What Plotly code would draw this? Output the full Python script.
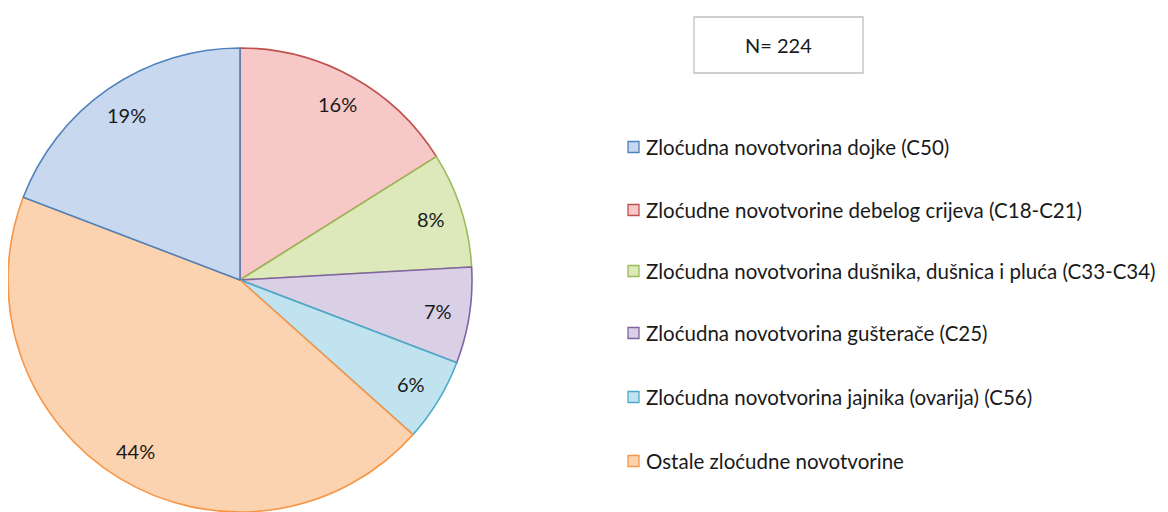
import math
import plotly.graph_objects as go

OFF = 8  # page body margin
W, H = 1168 - OFF, 512 - OFF

labels = [
    "Zloćudne novotvorine debelog crijeva (C18-C21)",
    "Zloćudna novotvorina dušnika, dušnica i pluća (C33-C34)",
    "Zloćudna novotvorina gušterače (C25)",
    "Zloćudna novotvorina jajnika (ovarija) (C56)",
    "Ostale zloćudne novotvorine",
    "Zloćudna novotvorina dojke (C50)",
]
counts = [36, 18, 15, 13, 99, 43]
fill_colors = ["#f6c8c7", "#dde9bb", "#dad0e6", "#c0e3ef", "#fcd3b0", "#c8d8ee"]
line_colors = ["#c0504d", "#9bbb59", "#8064a2", "#4bacc6", "#f79646", "#4f81bd"]

# legend order as in reference
legend_order = [5, 0, 1, 2, 3, 4]
total_n = 224

FONT = "Lato"
TXT = "#1a1a1a"


def px2x(px):
    return (px - OFF) / W


def py2y(py):
    return 1 - (py - OFF) / H


# pie geometry (reference pixels)
cx, cy, R = 240, 280, 232
dom_x = [px2x(cx - R), px2x(cx + R)]
dom_y = [max(0, py2y(cy + R)), min(1, py2y(cy - R))]

fig = go.Figure()
fig.add_trace(go.Pie(
    labels=labels,
    values=counts,
    sort=False,
    direction="clockwise",
    rotation=0,
    marker=dict(colors=fill_colors, line=dict(color=line_colors, width=1.6)),
    textinfo="none",
    hoverinfo="label+percent",
    showlegend=False,
    domain=dict(x=dom_x, y=dom_y),
))

annotations = []
shapes = []

# percentage labels placed on slice bisectors
tot = sum(counts)
cum = 0
for v in counts:
    mid = (cum + v / 2) / tot
    cum += v
    th = mid * 2 * math.pi
    r = 0.865 * R
    px = cx + r * math.sin(th)
    py = cy - r * math.cos(th)
    annotations.append(dict(
        x=px2x(px), y=py2y(py), xref="paper", yref="paper",
        text=f"{round(100 * v / tot)}%", showarrow=False,
        font=dict(family=FONT, size=20, color=TXT),
        xanchor="center", yanchor="middle",
    ))

# manual legend
row_y = [147, 210, 271, 333, 397, 461]
sq_x0, sq = 628, 11
for k, idx in enumerate(legend_order):
    yy = row_y[k]
    shapes.append(dict(
        type="rect", xref="paper", yref="paper",
        x0=px2x(sq_x0), x1=px2x(sq_x0 + sq),
        y0=py2y(yy + sq / 2), y1=py2y(yy - sq / 2),
        fillcolor=fill_colors[idx], line=dict(color=line_colors[idx], width=1.3),
    ))
    annotations.append(dict(
        x=px2x(644), y=py2y(yy), xref="paper", yref="paper",
        text=labels[idx], showarrow=False,
        font=dict(family=FONT, size=20.5, color=TXT),
        xanchor="left", yanchor="middle",
    ))

# N box
shapes.append(dict(
    type="rect", xref="paper", yref="paper",
    x0=px2x(694), x1=px2x(863), y0=py2y(73), y1=py2y(17),
    fillcolor="white", line=dict(color="#bfbfbf", width=1.3),
))
annotations.append(dict(
    x=px2x(778), y=py2y(45), xref="paper", yref="paper",
    text=f"N= {total_n}", showarrow=False,
    font=dict(family=FONT, size=20, color=TXT),
    xanchor="center", yanchor="middle",
))

fig.update_layout(
    width=W, height=H,
    margin=dict(l=0, r=0, t=0, b=0),
    paper_bgcolor="white", plot_bgcolor="white",
    annotations=annotations, shapes=shapes,
)

fig.write_html("out.html")
